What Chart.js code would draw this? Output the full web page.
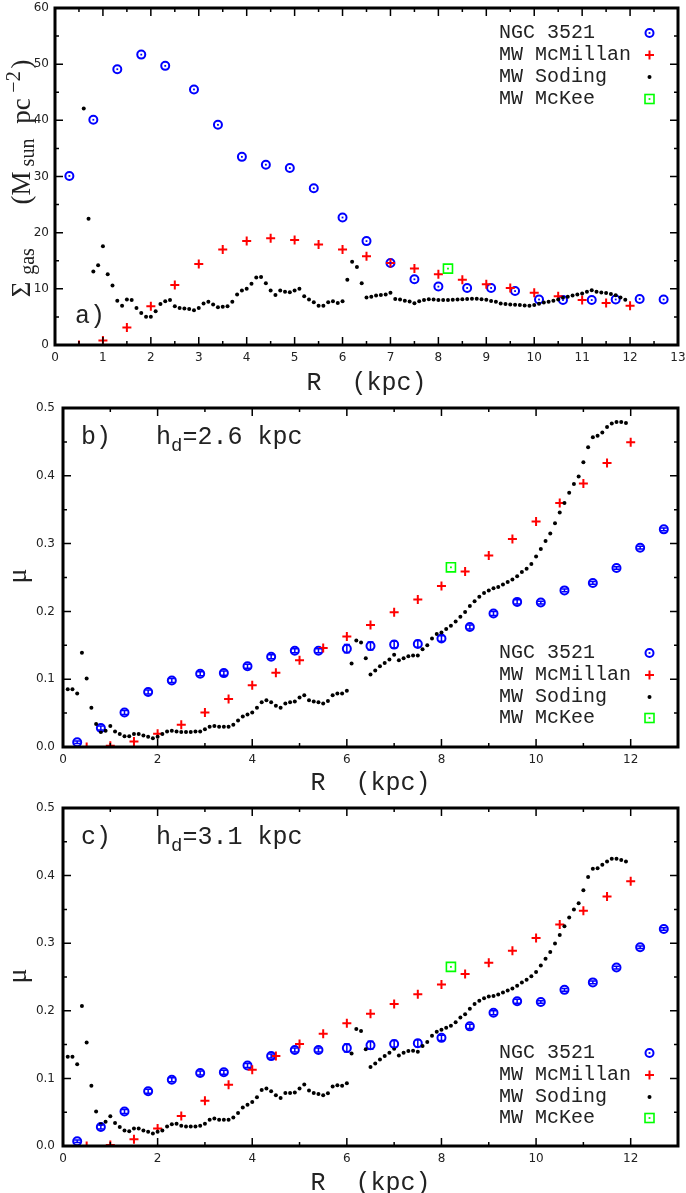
<!DOCTYPE html>
<html><head><meta charset="utf-8">
<script src="https://cdn.jsdelivr.net/npm/chart.js@4.4.1/dist/chart.umd.min.js"></script>
<style>
html,body{margin:0;padding:0;background:#fff;}
body{width:686px;height:1193px;position:relative;overflow:hidden;}
canvas{position:absolute;left:0;}
</style></head><body>
<canvas id="ca" width="686" height="400" style="top:0px"></canvas>
<canvas id="cb" width="686" height="400" style="top:400px"></canvas>
<canvas id="cc" width="686" height="393" style="top:800px"></canvas>
<script>
// ---------------- DATA ----------------
const ngcR = [0.3,0.8,1.3,1.8,2.3,2.9,3.4,3.9,4.4,4.9,5.4,6.0,6.5,7.0,7.5,8.0,8.6,9.1,9.6,10.1,10.6,11.2,11.7,12.2,12.7];
const ngcSigma = [30.1,40.1,49.1,51.7,49.7,45.5,39.2,33.5,32.1,31.5,27.9,22.7,18.5,14.6,11.7,10.4,10.15,10.15,9.6,8.1,8.0,8.0,8.1,8.2,8.1];
const ngcMu = [0.007,0.028,0.051,0.081,0.098,0.108,0.109,0.119,0.133,0.142,0.142,0.145,0.149,0.151,0.152,0.160,0.177,0.197,0.214,0.213,0.231,0.242,0.264,0.294,0.321];
const ngcMuErr = [0.002,0.003,0.003,0.003,0.003,0.003,0.003,0.003,0.003,0.003,0.003,0.006,0.006,0.005,0.005,0.004,0.003,0.003,0.003,0.002,0.002,0.002,0.002,0.002,0.002];

const mcmR = [0.5,1.0,1.5,2.0,2.5,3.0,3.5,4.0,4.5,5.0,5.5,6.0,6.5,7.0,7.5,8.0,8.5,9.0,9.5,10.0,10.5,11.0,11.5,12.0];
const mcmSigma = [0,0.8,3.1,6.9,10.7,14.4,17.0,18.5,19.0,18.7,17.9,17.0,15.8,14.6,13.6,12.6,11.6,10.8,10.15,9.3,8.7,8.0,7.5,7.0];
const mcmMuB = [0,0.002,0.008,0.0195,0.033,0.051,0.0707,0.091,0.1095,0.128,0.146,0.163,0.180,0.1986,0.2176,0.2376,0.259,0.2824,0.3067,0.3325,0.360,0.3885,0.4187,0.4493];
const mcmMuC = [0,0.0015,0.010,0.026,0.0444,0.067,0.0907,0.1127,0.133,0.151,0.166,0.1814,0.1956,0.210,0.2244,0.239,0.2546,0.271,0.2887,0.3077,0.3278,0.348,0.369,0.3917];

const mckR = [8.2];
const mckSigma = [13.6];
const mckMuB = [0.265];
const mckMuC = [0.265];

const sodR = [
 0.1,0.2,0.3,0.4,0.5,0.6,0.7,0.8,0.9,1.0,
 1.1,1.2,1.3,1.4,1.5,1.6,1.7,1.8,1.9,2.0,
 2.1,2.2,2.3,2.4,2.5,2.6,2.7,2.8,2.9,3.0,
 3.1,3.2,3.3,3.4,3.5,3.6,3.7,3.8,3.9,4.0,
 4.1,4.2,4.3,4.4,4.5,4.6,4.7,4.8,4.9,5.0,
 5.1,5.2,5.3,5.4,5.5,5.6,5.7,5.8,5.9,6.0,
 6.1,6.2,6.3,6.4,6.5,6.6,6.7,6.8,6.9,7.0,
 7.1,7.2,7.3,7.4,7.5,7.6,7.7,7.8,7.9,8.0,
 8.1,8.2,8.3,8.4,8.5,8.6,8.7,8.8,8.9,9.0,
 9.1,9.2,9.3,9.4,9.5,9.6,9.7,9.8,9.9,10.0,
 10.1,10.2,10.3,10.4,10.5,10.6,10.7,10.8,10.9,11.0,
 11.1,11.2,11.3,11.4,11.5,11.6,11.7,11.8,11.9];
const sodSigma = [
 null,null,null,null,null,42.1,22.5,13.1,14.2,17.6,
 12.6,10.6,7.9,7.0,8.1,8.0,6.6,5.7,5.05,5.05,
 6.0,7.3,7.8,8.0,6.9,6.6,6.5,6.4,6.2,6.6,
 7.4,7.7,7.2,6.7,6.8,6.9,7.7,9.0,9.7,10.0,
 10.9,12.0,12.1,11.0,9.7,8.9,9.7,9.5,9.4,9.7,
 10.0,8.7,8.1,7.6,7.0,7.0,7.6,7.8,7.5,7.8,
 11.6,14.8,13.9,11.0,8.45,8.6,8.8,8.9,9.0,9.3,
 8.2,8.1,7.9,7.75,7.45,7.8,8.0,8.15,8.1,8.0,
 8.0,8.0,8.05,8.1,8.15,8.2,8.25,8.25,8.15,8.05,
 7.85,7.7,7.4,7.3,7.2,7.15,7.1,7.05,7.0,7.1,
 7.35,7.55,7.7,7.9,8.1,8.4,8.6,8.8,9.0,9.15,
 9.5,9.75,9.5,9.35,9.25,9.1,8.85,8.45,8.05];
const sodMuB = [
 0.085,0.085,0.079,0.139,0.101,0.058,0.034,0.022,0.024,0.031,
 0.023,0.019,0.016,0.016,0.019,0.019,0.017,0.015,0.013,0.015,
 0.019,0.023,0.024,0.023,0.022,0.022,0.022,0.023,0.023,0.026,
 0.030,0.031,0.030,0.030,0.030,0.033,0.039,0.045,0.048,0.051,
 0.058,0.066,0.069,0.066,0.061,0.058,0.064,0.066,0.067,0.073,
 0.0765,0.069,0.067,0.066,0.064,0.068,0.0765,0.079,0.079,0.083,
 0.123,0.157,0.154,0.131,0.107,0.113,0.119,0.124,0.129,0.136,
 0.128,0.131,0.134,0.135,0.135,0.144,0.150,0.160,0.1665,0.169,
 0.174,0.179,0.185,0.192,0.199,0.208,0.215,0.2215,0.227,0.231,
 0.234,0.236,0.2395,0.2435,0.247,0.252,0.258,0.263,0.270,0.281,
 0.292,0.304,0.315,0.330,0.346,0.360,0.375,0.388,0.399,0.420,
 0.442,0.457,0.459,0.464,0.472,0.477,0.4795,0.4795,0.478];
const sodMuC = [
 0.132,0.132,0.121,0.207,0.153,0.089,0.051,0.032,0.036,0.044,
 0.034,0.028,0.023,0.022,0.026,0.026,0.023,0.021,0.0185,0.021,
 0.023,0.029,0.032,0.033,0.030,0.029,0.029,0.029,0.030,0.033,
 0.039,0.0405,0.039,0.039,0.039,0.042,0.049,0.057,0.061,0.065,
 0.072,0.083,0.085,0.081,0.075,0.071,0.0785,0.0785,0.079,0.085,
 0.091,0.082,0.0785,0.077,0.075,0.078,0.088,0.090,0.089,0.093,
 0.137,0.173,0.170,0.143,0.117,0.122,0.128,0.133,0.138,0.144,
 0.134,0.138,0.1405,0.141,0.1395,0.148,0.154,0.163,0.169,0.172,
 0.175,0.178,0.183,0.190,0.195,0.203,0.210,0.215,0.2185,0.221,
 0.222,0.224,0.227,0.230,0.233,0.237,0.242,0.246,0.251,0.2575,
 0.267,0.277,0.287,0.2995,0.312,0.325,0.338,0.350,0.359,0.3785,
 0.398,0.410,0.411,0.416,0.421,0.425,0.425,0.423,0.421];

const seriesLabels = ['NGC 3521','MW McMillan','MW Soding','MW McKee'];
const xTitle = 'R  (kpc)';

// ---------------- STYLE ----------------
const BLUE = '#0000ff', RED = '#ff0000', GREEN = '#00ff00', BLACK = '#000000';
const TXT = '#222';
const MONO = '"Liberation Mono", "Courier New", monospace';
const SERIF = '"Liberation Serif", "Times New Roman", serif';
const SANS = '"DejaVu Sans", Arial, sans-serif';

function pts(xs, ys) { return xs.map((x, i) => ({x: x, y: ys[i]})); }

function panelPlugin(p) {
  return {
    id: 'panelDeco',
    afterDatasetsDraw(chart) {
      const ctx = chart.ctx, ys = chart.scales.y, a = chart.chartArea;
      ctx.save();
      ctx.beginPath(); ctx.rect(a.left, a.top, a.width, a.height); ctx.clip();
      const m0 = chart.getDatasetMeta(0);
      ctx.strokeStyle = BLUE; ctx.fillStyle = BLUE; ctx.lineWidth = 1.5;
      m0.data.forEach((el, i) => {
        if (p.err) {
          const v = p.ngc[i], e = p.err[i];
          const y1 = ys.getPixelForValue(v - e), y2 = ys.getPixelForValue(v + e);
          ctx.beginPath();
          ctx.moveTo(el.x, y1); ctx.lineTo(el.x, y2);
          ctx.moveTo(el.x - 3, y1); ctx.lineTo(el.x + 3, y1);
          ctx.moveTo(el.x - 3, y2); ctx.lineTo(el.x + 3, y2);
          ctx.stroke();
        } else {
          ctx.fillRect(el.x - 0.9, el.y - 0.9, 1.8, 1.8);
        }
      });
      const m3 = chart.getDatasetMeta(3);
      ctx.fillStyle = GREEN;
      m3.data.forEach(el => ctx.fillRect(el.x - 0.9, el.y - 0.9, 1.8, 1.8));
      ctx.restore();
    },
    afterDraw(chart) {
      const ctx = chart.ctx, a = chart.chartArea, xs = chart.scales.x, ys = chart.scales.y;
      ctx.save();
      // inward ticks on all sides
      ctx.strokeStyle = BLACK; ctx.lineWidth = 1.5;
      ctx.beginPath();
      for (let k = 0; k * p.xMinor <= 13 + 1e-9; k++) {
        const v = k * p.xMinor;
        const major = Math.abs(v / p.xStep - Math.round(v / p.xStep)) < 1e-6;
        const len = major ? 8 : 4, px = xs.getPixelForValue(v);
        ctx.moveTo(px, a.bottom); ctx.lineTo(px, a.bottom - len);
        ctx.moveTo(px, a.top); ctx.lineTo(px, a.top + len);
      }
      for (let k = 0; k * p.yMinor <= p.yMax + 1e-9; k++) {
        const v = k * p.yMinor;
        const major = Math.abs(v / p.yStep - Math.round(v / p.yStep)) < 1e-6;
        const len = major ? 8 : 4, py = ys.getPixelForValue(v);
        ctx.moveTo(a.left, py); ctx.lineTo(a.left + len, py);
        ctx.moveTo(a.right, py); ctx.lineTo(a.right - len, py);
      }
      ctx.stroke();
      // frame
      ctx.lineWidth = 3;
      ctx.strokeRect(a.left, a.top, a.right - a.left, a.bottom - a.top);

      // legend
      ctx.font = '20px ' + MONO;
      ctx.textBaseline = 'middle'; ctx.textAlign = 'left';
      const sx = 649.5;
      seriesLabels.forEach((lab, i) => {
        const y = p.legY[i];
        ctx.fillStyle = TXT;
        ctx.fillText(lab, 499, y);
        if (i === 0) {
          ctx.strokeStyle = BLUE; ctx.lineWidth = 2;
          ctx.beginPath(); ctx.arc(sx, y, 4, 0, Math.PI * 2); ctx.stroke();
          ctx.fillStyle = BLUE; ctx.fillRect(sx - 0.9, y - 0.9, 1.8, 1.8);
        } else if (i === 1) {
          ctx.strokeStyle = RED; ctx.lineWidth = 2;
          ctx.beginPath(); ctx.moveTo(sx - 4.5, y); ctx.lineTo(sx + 4.5, y);
          ctx.moveTo(sx, y - 4.5); ctx.lineTo(sx, y + 4.5); ctx.stroke();
        } else if (i === 2) {
          ctx.fillStyle = BLACK;
          ctx.beginPath(); ctx.arc(sx, y, 2, 0, Math.PI * 2); ctx.fill();
        } else {
          ctx.strokeStyle = GREEN; ctx.lineWidth = 1.6;
          ctx.strokeRect(sx - 4.5, y - 4.5, 9, 9);
          ctx.fillStyle = GREEN; ctx.fillRect(sx - 0.9, y - 0.9, 1.8, 1.8);
        }
      });

      // x title
      ctx.fillStyle = TXT;
      ctx.font = '25px ' + MONO;
      ctx.textAlign = 'center'; ctx.textBaseline = 'alphabetic';
      ctx.fillText(xTitle, (a.left + a.right) / 2, 389.5);

      // panel label
      ctx.textAlign = 'left';
      ctx.font = '25px ' + MONO;
      let lx = p.labX;
      ctx.fillText(p.lab1, lx, p.labY);
      if (p.lab2) {
        lx += ctx.measureText(p.lab1).width;
        ctx.font = '19px ' + MONO;
        ctx.fillText('d', lx, p.labY + 7);
        lx += ctx.measureText('d').width;
        ctx.font = '25px ' + MONO;
        ctx.fillText(p.lab2, lx, p.labY);
      }

      // y title (rotated runs)
      p.yRuns.forEach(r => {
        ctx.save();
        ctx.translate(r.bx, r.cy);
        ctx.rotate(-Math.PI / 2);
        ctx.font = r.size + 'px ' + SERIF;
        ctx.textAlign = 'center'; ctx.textBaseline = 'alphabetic';
        ctx.fillStyle = TXT;
        ctx.fillText(r.t, 0, 0);
        ctx.restore();
      });
      ctx.restore();
    }
  };
}

function makePanel(id, p) {
  return new Chart(document.getElementById(id), {
    type: 'scatter',
    data: {
      datasets: [
        { label: seriesLabels[0], data: pts(ngcR, p.ngc), pointStyle: 'circle', pointRadius: 4,
          pointBorderColor: BLUE, pointBackgroundColor: 'rgba(0,0,0,0)', pointBorderWidth: 2, order: 3 },
        { label: seriesLabels[1], data: pts(mcmR, p.mcm), pointStyle: 'cross', pointRadius: 4.5,
          pointBorderColor: RED, pointBackgroundColor: RED, pointBorderWidth: 2, order: 2 },
        { label: seriesLabels[2], data: pts(sodR, p.sod), pointStyle: 'circle', pointRadius: 2,
          pointBorderColor: BLACK, pointBackgroundColor: BLACK, pointBorderWidth: 0, order: 1 },
        { label: seriesLabels[3], data: pts(mckR, p.mck), pointStyle: 'rect', pointRadius: 6.4,
          pointBorderColor: GREEN, pointBackgroundColor: 'rgba(0,0,0,0)', pointBorderWidth: 1.6, order: 0 }
      ]
    },
    options: {
      responsive: false, animation: false, events: [],
      layout: { padding: { top: p.top, right: 7, left: 0, bottom: 0 } },
      plugins: { legend: { display: false }, tooltip: { enabled: false }, title: { display: false } },
      scales: {
        x: {
          type: 'linear', min: 0, max: 13,
          grid: { display: false, drawTicks: false }, border: { display: false },
          ticks: { stepSize: p.xStep, includeBounds: false, padding: 6, color: TXT,
                   font: { family: SANS, size: 12 }, maxRotation: 0, autoSkip: false },
          afterFit: s => { s.height = p.xH; s.paddingLeft = 0; s.paddingRight = 0; }
        },
        y: {
          type: 'linear', min: 0, max: p.yMax,
          grid: { display: false, drawTicks: false }, border: { display: false },
          ticks: { stepSize: p.yStep, padding: p.yPad, color: TXT, font: { family: SANS, size: 12 },
                   callback: p.yFmt },
          afterFit: s => { s.width = p.yW; s.paddingTop = 0; s.paddingBottom = 0; }
        }
      }
    },
    plugins: [panelPlugin(p)]
  });
}

const muRuns = [{ t: '\u03BC', size: 28, bx: 26, cy: 176 }];

makePanel('ca', {
  ngc: ngcSigma, mcm: mcmSigma, sod: sodSigma, mck: mckSigma, err: null,
  yMax: 60, yStep: 10, yMinor: 5, xStep: 1, xMinor: 0.5,
  top: 4, yW: 55, xH: 55, yPad: 6, yFmt: v => String(v),
  legY: [33, 55, 77, 99], labX: 75, labY: 323, lab1: 'a)', lab2: null,
  yRuns: [
    { t: '\u03A3', size: 27, bx: 30, cy: 289.5 },
    { t: 'gas', size: 20, bx: 34, cy: 261.5 },
    { t: '(M', size: 27, bx: 30, cy: 188 },
    { t: 'sun', size: 20, bx: 34, cy: 152.5 },
    { t: 'pc', size: 27, bx: 30, cy: 111 },
    { t: '\u22122', size: 20, bx: 20, cy: 82 },
    { t: ')', size: 27, bx: 30, cy: 64 }
  ]
});

makePanel('cb', {
  ngc: ngcMu, mcm: mcmMuB, sod: sodMuB, mck: mckMuB, err: ngcMuErr,
  yMax: 0.5, yStep: 0.1, yMinor: 0.05, xStep: 2, xMinor: 1,
  top: 4, yW: 63, xH: 53, yPad: 8, yFmt: v => v.toFixed(1),
  legY: [253, 275, 297, 318], labX: 81, labY: 44, lab1: 'b)   h', lab2: '=2.6 kpc',
  yRuns: muRuns
});

makePanel('cc', {
  ngc: ngcMu, mcm: mcmMuC, sod: sodMuC, mck: mckMuC, err: ngcMuErr,
  yMax: 0.5, yStep: 0.1, yMinor: 0.05, xStep: 2, xMinor: 1,
  top: 4, yW: 63, xH: 47, yPad: 8, yFmt: v => v.toFixed(1),
  legY: [253, 275, 297, 318], labX: 81, labY: 44, lab1: 'c)   h', lab2: '=3.1 kpc',
  yRuns: muRuns
});
</script>
</body></html>
